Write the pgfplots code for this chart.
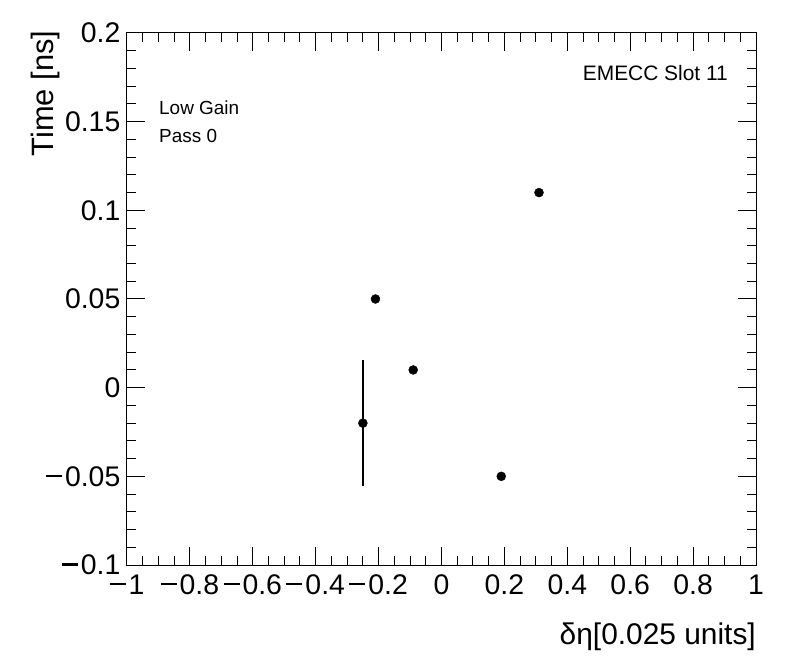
\documentclass[border=0pt]{standalone}
\usepackage{fontspec}
\setmainfont{Liberation Sans}
\usepackage{pgfplots}
\pgfplotsset{compat=1.18}
\newcommand{\mn}{\rule[9.2bp]{16bp}{2.1bp}\kern3bp}
\begin{document}
\begin{tikzpicture}[x=1bp,y=1bp]
\useasboundingbox (-127,-107) rectangle (669,565);
\begin{axis}[
  at={(0,0)}, anchor=south west,
  scale only axis, width=629bp, height=532bp,
  xmin=-1, xmax=1, ymin=-0.1, ymax=0.2,
  xtick={-1,-0.8,-0.6,-0.4,-0.2,0,0.2,0.4,0.6,0.8,1},
  xticklabels={\mn1,\mn0.8,\mn0.6,\mn0.4,\mn0.2,0,0.2,0.4,0.6,0.8,1},
  minor x tick num=3,
  ytick={-0.1,-0.05,0,0.05,0.1,0.15,0.2},
  yticklabels={\mn0.1,\mn0.05,0,0.05,0.1,0.15,0.2},
  minor y tick num=4,
  tick align=inside, tick pos=both,
  major tick length=18bp, minor tick length=9bp,
  tick style={black, line width=1bp},
  axis line style={line width=1bp},
  xticklabel style={font=\fontsize{28.5}{28}\selectfont, anchor=base, yshift=-29bp, inner sep=0pt},
  yticklabel style={font=\fontsize{28.5}{28}\selectfont, anchor=east, inner sep=0pt, xshift=-6.5bp},
  xlabel={δη[0.025 units]},
  xlabel style={at={(axis description cs:1,-0.1485)}, anchor=base east, font=\fontsize{30}{30}\selectfont, inner sep=0pt},
  ylabel={Time [ns]},
  ylabel style={at={(axis description cs:-0.117,1.005)}, anchor=base east, font=\fontsize{31}{31}\selectfont, inner sep=0pt},
]
\addplot[only marks, mark=*, mark size=4.5bp, black,
  error bars/.cd, y dir=both, y explicit, error mark=none,
  error bar style={line width=2bp, black}]
  table[x=x, y=y, y error=ey] {
x y ey
-0.25 -0.02 0.0355
-0.21 0.05 0
-0.09 0.01 0
0.19 -0.05 0
0.31 0.11 0
};
\node[anchor=base east, inner sep=0pt, font=\fontsize{21}{21}\selectfont] at (axis description cs:0.9555,0.9098) {EMECC Slot 11};
\node[anchor=base west, inner sep=0pt, font=\fontsize{19}{19}\selectfont] at (axis description cs:0.0509,0.8459) {Low Gain};
\node[anchor=base west, inner sep=0pt, font=\fontsize{19}{19}\selectfont] at (axis description cs:0.0509,0.795) {Pass 0};
\end{axis}
\end{tikzpicture}
\end{document}
